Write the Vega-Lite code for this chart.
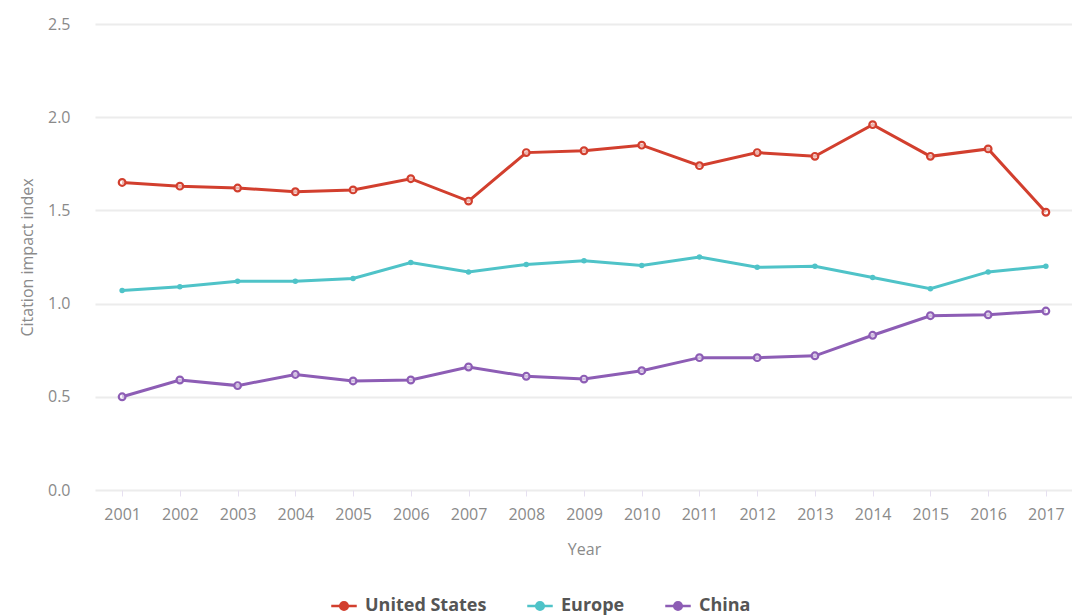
{
  "$schema": "https://vega.github.io/schema/vega-lite/v6.json",
  "autosize": "none",
  "width": 978,
  "height": 466,
  "padding": {"left": 95, "top": 24, "right": 0, "bottom": 125},
  "background": "white",
  "config": {
    "font": "Open Sans",
    "view": {"stroke": null}
  },
  "data": {
    "values": [
      {"year": "2001", "region": "United States", "value": 1.65},
      {"year": "2002", "region": "United States", "value": 1.63},
      {"year": "2003", "region": "United States", "value": 1.62},
      {"year": "2004", "region": "United States", "value": 1.60},
      {"year": "2005", "region": "United States", "value": 1.61},
      {"year": "2006", "region": "United States", "value": 1.67},
      {"year": "2007", "region": "United States", "value": 1.55},
      {"year": "2008", "region": "United States", "value": 1.81},
      {"year": "2009", "region": "United States", "value": 1.82},
      {"year": "2010", "region": "United States", "value": 1.85},
      {"year": "2011", "region": "United States", "value": 1.74},
      {"year": "2012", "region": "United States", "value": 1.81},
      {"year": "2013", "region": "United States", "value": 1.79},
      {"year": "2014", "region": "United States", "value": 1.96},
      {"year": "2015", "region": "United States", "value": 1.79},
      {"year": "2016", "region": "United States", "value": 1.83},
      {"year": "2017", "region": "United States", "value": 1.49},
      {"year": "2001", "region": "Europe", "value": 1.07},
      {"year": "2002", "region": "Europe", "value": 1.09},
      {"year": "2003", "region": "Europe", "value": 1.12},
      {"year": "2004", "region": "Europe", "value": 1.12},
      {"year": "2005", "region": "Europe", "value": 1.135},
      {"year": "2006", "region": "Europe", "value": 1.22},
      {"year": "2007", "region": "Europe", "value": 1.17},
      {"year": "2008", "region": "Europe", "value": 1.21},
      {"year": "2009", "region": "Europe", "value": 1.23},
      {"year": "2010", "region": "Europe", "value": 1.205},
      {"year": "2011", "region": "Europe", "value": 1.25},
      {"year": "2012", "region": "Europe", "value": 1.195},
      {"year": "2013", "region": "Europe", "value": 1.20},
      {"year": "2014", "region": "Europe", "value": 1.14},
      {"year": "2015", "region": "Europe", "value": 1.08},
      {"year": "2016", "region": "Europe", "value": 1.17},
      {"year": "2017", "region": "Europe", "value": 1.20},
      {"year": "2001", "region": "China", "value": 0.50},
      {"year": "2002", "region": "China", "value": 0.59},
      {"year": "2003", "region": "China", "value": 0.56},
      {"year": "2004", "region": "China", "value": 0.62},
      {"year": "2005", "region": "China", "value": 0.585},
      {"year": "2006", "region": "China", "value": 0.59},
      {"year": "2007", "region": "China", "value": 0.66},
      {"year": "2008", "region": "China", "value": 0.61},
      {"year": "2009", "region": "China", "value": 0.595},
      {"year": "2010", "region": "China", "value": 0.64},
      {"year": "2011", "region": "China", "value": 0.71},
      {"year": "2012", "region": "China", "value": 0.71},
      {"year": "2013", "region": "China", "value": 0.72},
      {"year": "2014", "region": "China", "value": 0.83},
      {"year": "2015", "region": "China", "value": 0.935},
      {"year": "2016", "region": "China", "value": 0.94},
      {"year": "2017", "region": "China", "value": 0.96}
    ]
  },
  "encoding": {
    "x": {
      "field": "year",
      "type": "ordinal",
      "scale": {"type": "point", "padding": 0.47},
      "axis": {
        "title": "Year",
        "titleFont": "Open Sans",
        "titleFontWeight": "normal",
        "titleFontSize": 16,
        "titleColor": "#8a8a8a",
        "titlePadding": 19,
        "labelAngle": 0,
        "labelFontSize": 16,
        "labelColor": "#8a8a8a",
        "labelPadding": 10,
        "tickColor": "#e6e0f0",
        "tickSize": 6,
        "domain": false,
        "grid": false
      }
    },
    "y": {
      "field": "value",
      "type": "quantitative",
      "scale": {"domain": [0, 2.5], "nice": false},
      "axis": {
        "title": "Citation impact index",
        "titleFont": "Open Sans",
        "titleFontWeight": "normal",
        "titleFontSize": 16,
        "titleColor": "#8a8a8a",
        "titlePadding": 12,
        "values": [0, 0.5, 1, 1.5, 2, 2.5],
        "format": ".1f",
        "labelFontSize": 16,
        "labelColor": "#8a8a8a",
        "labelPadding": 25,
        "ticks": false,
        "domain": false,
        "grid": true,
        "gridColor": "#ececec",
        "gridWidth": 2
      }
    },
    "color": {
      "field": "region",
      "type": "nominal",
      "sort": ["United States", "Europe", "China"],
      "scale": {
        "domain": ["United States", "Europe", "China"],
        "range": ["#d23f2e", "#4fc3c8", "#8d5db5"]
      },
      "legend": {
        "title": null,
        "orient": "none",
        "direction": "horizontal",
        "legendX": 235,
        "legendY": 568,
        "symbolType": "M-1,0L-0.3,0M0.3,0L1,0M-0.3,0A0.3,0.3 0 1,1 0.3,0A0.3,0.3 0 1,1 -0.3,0",
        "symbolSize": 650,
        "symbolStrokeWidth": 2.5,
        "labelFont": "Open Sans",
        "labelFontSize": 18,
        "labelFontWeight": "bold",
        "labelColor": "#555555",
        "columnPadding": 35,
        "labelOffset": 7,
        "encode": {"symbols": {"update": {"fill": {"value": "white"}, "fillOpacity": {"value": 1}}}}
      }
    }
  },
  "layer": [
    {
      "mark": {"type": "line", "strokeWidth": 3}
    },
    {
      "transform": [{"filter": "datum.region !== 'Europe'"}],
      "mark": {"type": "point", "filled": false, "fill": "white", "fillOpacity": 0.6, "size": 45, "strokeWidth": 2.2, "opacity": 1},
      "encoding": {
        "color": {"field": "region", "type": "nominal", "legend": null}
      }
    },
    {
      "transform": [{"filter": "datum.region === 'Europe'"}],
      "mark": {"type": "point", "filled": true, "size": 30, "opacity": 1},
      "encoding": {
        "color": {"field": "region", "type": "nominal", "legend": null}
      }
    }
  ]
}
